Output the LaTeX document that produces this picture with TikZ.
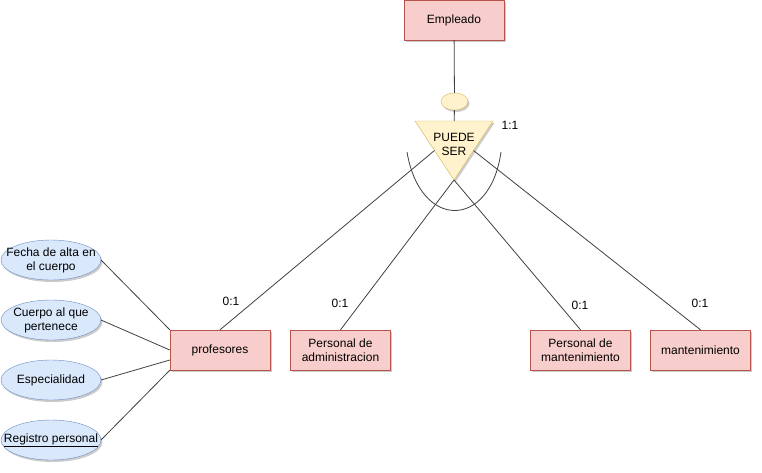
\documentclass[tikz,border=0pt]{standalone}
\usepackage{fontspec}
\setmainfont{Liberation Sans}
\usetikzlibrary{shapes.geometric,shadows}

\definecolor{entfill}{HTML}{F8CECC}
\definecolor{entline}{HTML}{B85450}
\definecolor{attfill}{HTML}{DAE8FC}
\definecolor{attline}{HTML}{6C8EBF}
\definecolor{isafill}{HTML}{FFF2CC}
\definecolor{isaline}{HTML}{D6B656}

\tikzset{
  sombra/.style={drop shadow={shadow xshift=1.5pt, shadow yshift=-2pt, opacity=0.2, fill=black}},
  entidad/.style={draw=entline, fill=entfill, sombra, minimum width=100pt, minimum height=40pt, inner sep=1pt, align=center},
  atributo/.style={ellipse, draw=attline, fill=attfill, sombra, minimum width=100pt, minimum height=40pt, inner xsep=-12pt, inner ysep=0pt, outer sep=0pt, align=center},
  enlace/.style={draw=black!75, line width=0.8pt},
}

\begin{document}
\begin{tikzpicture}[x=1pt, y=-1pt, every node/.style={font=\fontsize{12}{14}\selectfont}]
\useasboundingbox (0,0) rectangle (762,472);

\node[entidad] (emp) at (454,20) {Empleado};
\node[ellipse, draw=isaline, fill=isafill, sombra, minimum width=27pt, minimum height=17pt, inner sep=0pt] (dot) at (454.5,101.5) {};
\node[isosceles triangle, shape border rotate=-90, isosceles triangle stretches, minimum width=78pt, minimum height=59pt, inner sep=0pt, outer sep=0pt, draw=isaline, fill=isafill, sombra, anchor=apex] (isa) at (454,180) {};
\node[align=center] (isatxt) at (454,144) {PUEDE\\SER};
\node at (510,125) {1:1};

\draw[enlace] (407,152) .. controls (420,230) and (490,230) .. (501,152);

\node[entidad] (prof) at (220,350) {profesores};
\node[entidad] (adm) at (340.5,350) {Personal de\\administracion};
\node[entidad] (pman) at (580.5,350) {Personal de\\mantenimiento};
\node[entidad] (mant) at (700.5,350) {mantenimiento};

\node[atributo] (fecha) at (51,260) {Fecha de alta en\\el cuerpo};
\node[atributo] (cuerpo) at (51,320) {Cuerpo al que\\pertenece};
\node[atributo] (esp) at (51,380) {Especialidad};
\node[atributo] (reg) at (51,440) {\underline{Registro personal}};

\draw[enlace] (emp) -- (dot) -- (isa);
\draw[enlace] (isa.right side) -- (prof.north);
\draw[enlace] (isa.apex) -- (adm.north);
\draw[enlace] (isa.apex) -- (pman.north);
\draw[enlace] (isa.left side) -- (mant.north);

\node at (231,301) {0:1};
\node at (340,303) {0:1};
\node at (580,305) {0:1};
\node at (700,303) {0:1};

\draw[enlace] (fecha.east) -- (prof.north west);
\draw[enlace] (cuerpo.east) -- (prof.west);
\draw[enlace] (esp.east) -- ([yshift=-10pt]prof.west);
\draw[enlace] (reg.east) -- (prof.south west);
\end{tikzpicture}
\end{document}
